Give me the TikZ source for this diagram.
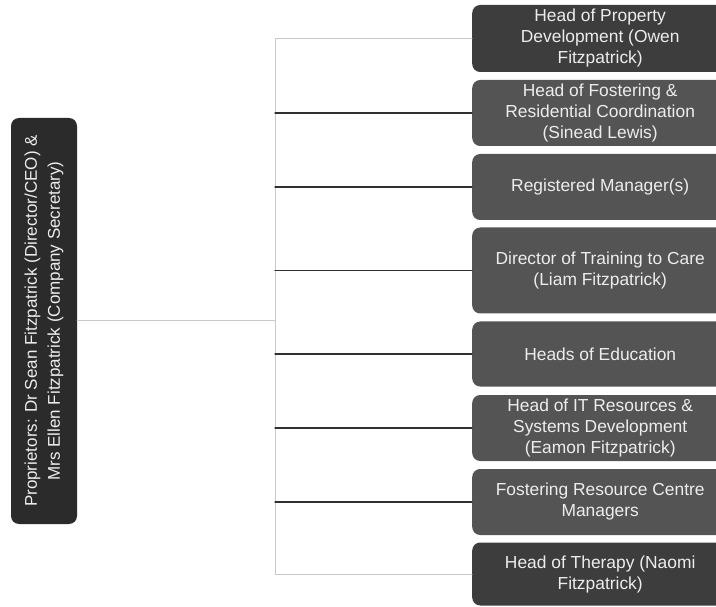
\documentclass[tikz,border=0pt]{standalone}
\usepackage{fontspec}
\setmainfont{Liberation Sans}
\definecolor{propfill}{HTML}{2B2B2B}
\definecolor{headfill}{HTML}{3D3D3D}
\definecolor{rolefill}{HTML}{545454}
\definecolor{rolefont}{HTML}{EDEDED}
\definecolor{linkpale}{HTML}{C8C8C8}
\definecolor{linkdark}{HTML}{303030}
\tikzset{
  role/.style={fill=rolefill, text=rolefont, rounded corners=8pt, align=center,
    minimum width=256pt, anchor=west, inner sep=2pt,
    font=\fontsize{17.4}{21}\selectfont},
  rolehead/.style={role, fill=headfill},
  linkpale/.style={draw=linkpale, line width=1pt},
  linkdark/.style={draw=linkdark, line width=1.2pt}
}
\begin{document}
\begin{tikzpicture}[x=1pt,y=-1pt,line join=round, line cap=round]
	\useasboundingbox (0,0) rectangle (716,607);
	\clip (0,0) rectangle (716,607);
	\node[fill=propfill, text=rolefont, rounded corners=8pt, align=center, rotate=90,
	  minimum width=406pt, minimum height=66pt, font=\fontsize{17}{23}\selectfont]
	  (prop) at (44,321) {Proprietors: Dr Sean Fitzpatrick (Director/CEO) \&\\Mrs Ellen Fitzpatrick (Company Secretary)};
	\coordinate (trunk) at (275,321);
	\coordinate (top) at (275,38.5);
	\coordinate (bottom) at (275,574);
	\node[rolehead, minimum height=67pt] (property) at (472,38.5) {Head of Property\\Development (Owen\\Fitzpatrick)};
	\node[role, minimum height=66pt] (fostering) at (472,113) {Head of Fostering \&\\Residential Coordination\\(Sinead Lewis)};
	\node[role, minimum height=66pt] (registered) at (472,187) {Registered Manager(s)};
	\node[role, minimum height=86pt] (training) at (472,270.5) {Director of Training to Care\\(Liam Fitzpatrick)};
	\node[role, minimum height=65pt] (education) at (472,354) {Heads of Education};
	\node[role, minimum height=66pt] (itres) at (472,428) {Head of IT Resources \&\\Systems Development\\(Eamon Fitzpatrick)};
	\node[role, minimum height=66pt] (centre) at (472,502) {Fostering Resource Centre\\Managers};
	\node[rolehead, minimum height=63pt] (therapy) at (472,574) {Head of Therapy (Naomi\\Fitzpatrick)};
	% links
	\draw[linkpale] (prop.south) -- (trunk);
	\draw[linkpale] (property.west) -- (top) -- (bottom) -- (therapy.west);
	\foreach \r in {fostering,registered,training,education,itres,centre}
		\draw[linkdark] (top |- \r.west) -- (\r.west);
\end{tikzpicture}
\end{document}
